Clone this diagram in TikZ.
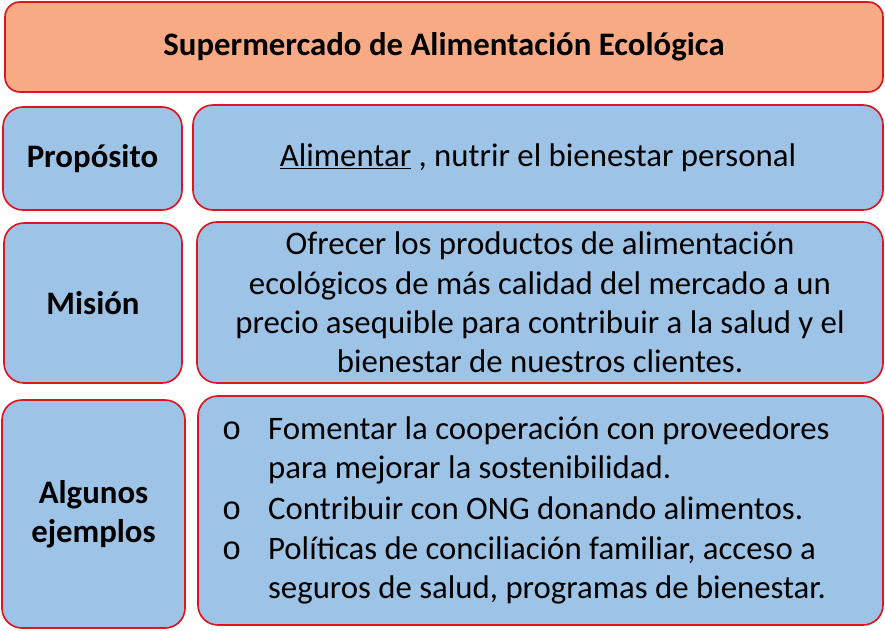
\documentclass[tikz,border=0pt]{standalone}
\usepackage{fontspec}
\setmainfont{Carlito}
\newfontfamily\bulletfont{Liberation Mono}
\usepackage{tikz}
\usetikzlibrary{positioning,
        shapes,
        arrows.meta,
        fit}
\usepackage{xcolor}
\definecolor{salmon}{HTML}{F8AA85}
\definecolor{lightblue}{HTML}{9DC3E6}
\definecolor{borderred}{HTML}{E0141E}

\begin{document}
\begin{tikzpicture}[x=0.03cm,y=-0.03cm,
        box/.style={rectangle,draw=borderred,line width=1.4pt,rounded corners=0.6cm,
                fill=lightblue,inner sep=0pt,align=center,
                font=\fontsize{28}{33.5}\selectfont},
        head/.style={box,font=\fontsize{28}{33.5}\selectfont\bfseries}]
        \useasboundingbox (0,0) rectangle (885,630);

        \node [head,fill=salmon,rounded corners=0.45cm,minimum width=26.34cm,minimum height=2.7cm] (title) at (444,47) {Supermercado de Alimentación Ecológica};

        \node [head,minimum width=5.37cm,minimum height=3.09cm] (proposito) at (92.5,158.5) {Propósito};
        \node [box,minimum width=20.7cm,minimum height=3.15cm] (propositotext) at (538,157.5) {\underline{Alimentar} , nutrir el bienestar personal};

        \node [head,minimum width=5.34cm,minimum height=4.8cm] (mision) at (93,303) {Misión};
        \node [box,minimum width=20.58cm,minimum height=4.83cm] (misiontext) at (540,302.5) {Ofrecer los productos de alimentación\\ ecológicos de más calidad del mercado a un\\ precio asequible para contribuir a la salud y el\\ bienestar de nuestros clientes.};

        \node [head,minimum width=5.49cm,minimum height=6.84cm] (ejemplos) at (93.5,514) {Algunos\\ ejemplos};
        \node [box,minimum width=20.55cm,minimum height=6.87cm,align=left] (ejemplostext) at (540.5,510.5) {%
                \begin{minipage}{19.4cm}\raggedright
                \begin{list}{\bulletfont o}{\leftmargin=1.53cm\labelsep=0.8cm\labelwidth=0.73cm\itemsep=1pt\topsep=0pt\parsep=0pt\partopsep=0pt}
                \item Fomentar la cooperación con proveedores\\ para mejorar la sostenibilidad.
                \item Contribuir con ONG donando alimentos.
                \item Políticas de conciliación familiar, acceso a\\ seguros de salud, programas de bienestar.
                \end{list}
                \end{minipage}};
\end{tikzpicture}
\end{document}
